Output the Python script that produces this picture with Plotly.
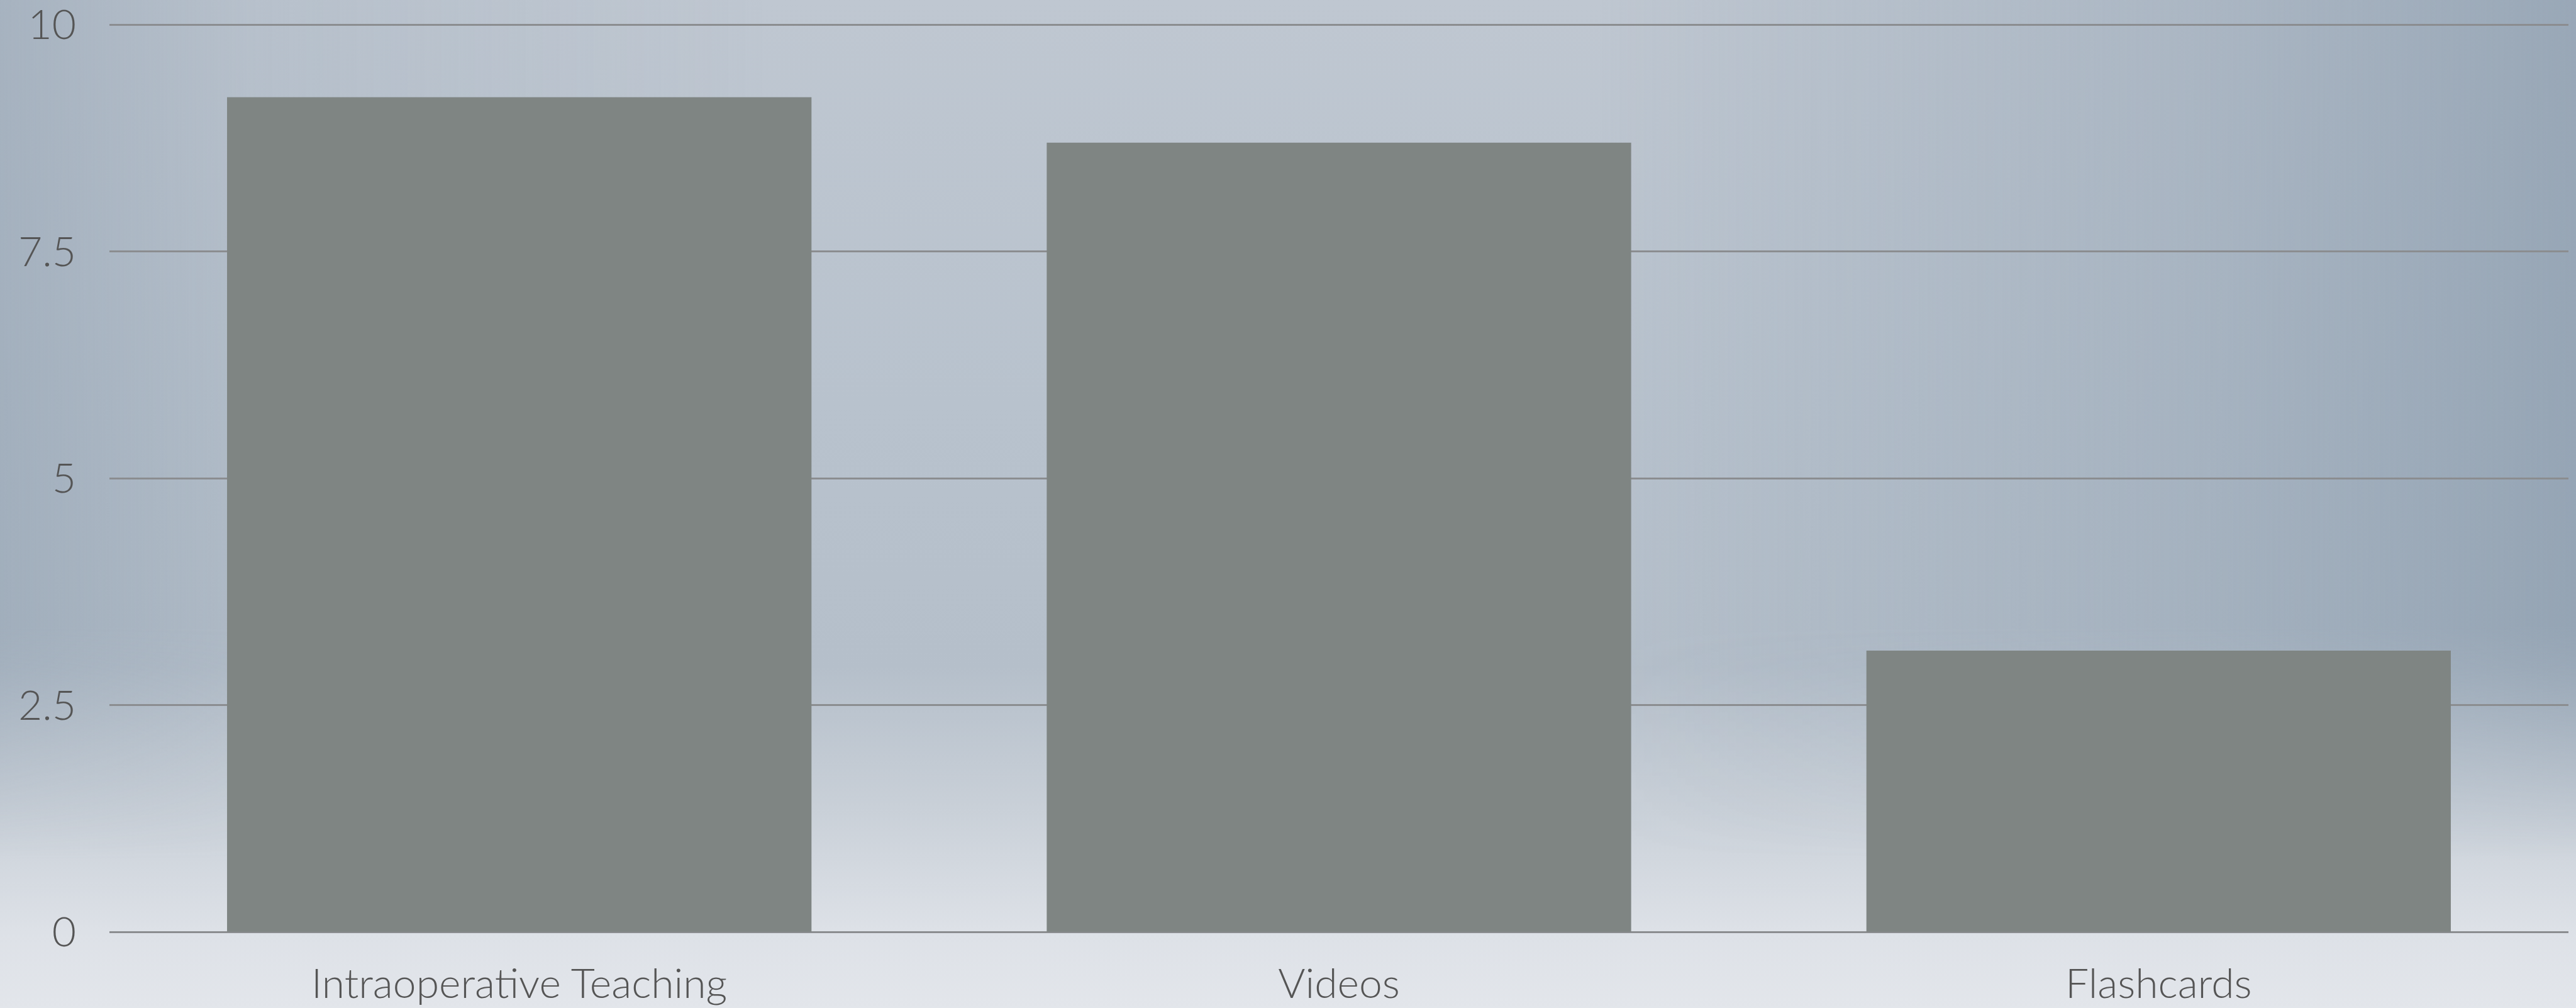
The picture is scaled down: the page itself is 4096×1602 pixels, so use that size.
import plotly.graph_objects as go
import urllib.parse

# ---- data ----
categories = ["Intraoperative Teaching", "Videos", "Flashcards"]
values = [9.2, 8.7, 3.1]
y_tickvals = [0, 2.5, 5, 7.5, 10]
y_ticktext = ["0", "2.5", "5", "7.5", "10"]

W, H = 4096, 1602
ML, MR, MT, MB = 174, 12, 32, 121
Y_TOP = 10.05

bar_color = "#7f8583"
grid_color = "#8b8d90"
text_color = "#555555"
font_family = "Lato"

# background gradient (SVG data URI)
svg = f"""<svg xmlns='http://www.w3.org/2000/svg' width='{W}' height='{H}' viewBox='0 0 {W} {H}' preserveAspectRatio='none'>
<defs>
<linearGradient id='v' x1='0' y1='0' x2='0' y2='1'>
<stop offset='0' stop-color='#bfc7d1'/>
<stop offset='0.40' stop-color='#b8c2cd'/>
<stop offset='0.66' stop-color='#b5bfca'/>
<stop offset='0.80' stop-color='#c9d0d8'/>
<stop offset='0.92' stop-color='#dde1e7'/>
<stop offset='1' stop-color='#e3e6eb'/>
</linearGradient>
<linearGradient id='h' x1='0' y1='0' x2='1' y2='0'>
<stop offset='0' stop-color='#8294a6' stop-opacity='0.40'/>
<stop offset='0.10' stop-color='#8294a6' stop-opacity='0.12'/>
<stop offset='0.30' stop-color='#8294a6' stop-opacity='0'/>
<stop offset='0.62' stop-color='#7a8ea2' stop-opacity='0'/>
<stop offset='0.85' stop-color='#7a8ea2' stop-opacity='0.28'/>
<stop offset='1' stop-color='#7a8ea2' stop-opacity='0.55'/>
</linearGradient>
<linearGradient id='mg' x1='0' y1='0' x2='0' y2='1'>
<stop offset='0' stop-color='white'/>
<stop offset='0.62' stop-color='white'/>
<stop offset='0.85' stop-color='black'/>
<stop offset='1' stop-color='black'/>
</linearGradient>
<mask id='m'><rect x='0' y='0' width='{W}' height='{H}' fill='url(#mg)'/></mask>
</defs>
<rect x='0' y='0' width='{W}' height='{H}' fill='url(#v)'/>
<rect x='0' y='0' width='{W}' height='{H}' fill='url(#h)' mask='url(#m)'/>
</svg>"""
bg_uri = "data:image/svg+xml;charset=utf-8," + urllib.parse.quote(svg)

pw = W - ML - MR
ph = H - MT - MB

fig = go.Figure()
fig.add_trace(go.Bar(
    x=categories,
    y=values,
    marker=dict(color=bar_color, line=dict(width=0)),
    hoverinfo="skip",
))

fig.update_layout(
    width=W, height=H, autosize=False,
    margin=dict(l=ML, r=MR, t=MT, b=MB, pad=0),
    paper_bgcolor="#e3e6eb",
    plot_bgcolor="rgba(0,0,0,0)",
    bargap=0.287,
    showlegend=False,
    font=dict(family=font_family, color=text_color, size=66, weight=300),
    images=[dict(
        source=bg_uri,
        xref="paper", yref="paper",
        x=-ML / pw - 0.002, y=1 + MT / ph + 0.002,
        sizex=W / pw + 0.004, sizey=H / ph + 0.006,
        xanchor="left", yanchor="top",
        sizing="stretch", layer="below",
    )],
)

fig.update_xaxes(
    automargin=False,
    showgrid=False,
    showline=False,
    zeroline=False,
    ticks="",
    tickfont=dict(family=font_family, size=66, color=text_color, weight=300),
    ticklabelstandoff=38,
    ticklabeloverflow="allow",
)
fig.update_yaxes(
    automargin=False,
    range=[0, Y_TOP],
    tickvals=y_tickvals,
    ticktext=y_ticktext,
    showgrid=True,
    gridcolor=grid_color,
    gridwidth=2.5,
    zeroline=True,
    zerolinecolor=grid_color,
    zerolinewidth=2.5,
    showline=False,
    ticks="",
    tickfont=dict(family=font_family, size=66, color=text_color, weight=300),
    ticklabelstandoff=52,
    ticklabeloverflow="allow",
)

fig.write_html("out.html")
